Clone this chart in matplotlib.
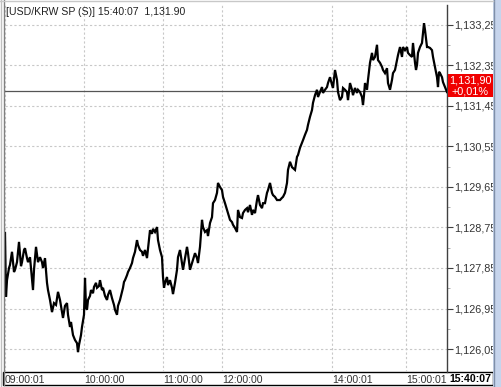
import matplotlib
matplotlib.use("Agg")
import matplotlib.pyplot as plt
from matplotlib.patches import Rectangle
from matplotlib.lines import Line2D
from matplotlib import transforms

plt.rcParams['font.family'] = ['Liberation Sans', 'DejaVu Sans']

title_text = "[USD/KRW SP (S)] 15:40:07  1,131.90"
last_price = 1131.90
prev_close = 1131.79
change_text = "+0,01%"
last_time = "15:40:07"

time_labels = ["09:00:01", "10:00:00", "11:00:00", "12:00:00", "14:00:01", "15:00:01"]
time_label_ticks = [0, 79, 158, 217, 327, 401]

price_ticks = [1126.05, 1126.95, 1127.85, 1128.75, 1129.65, 1130.55, 1131.45, 1132.35, 1133.25]

ticks = [
    0, 1, 2, 4, 5, 7, 9, 10, 12, 14,
    16, 17, 19, 20, 22, 23, 25, 26, 28, 29,
    31, 33, 35, 37, 38, 40, 42, 43, 45, 47,
    49, 51, 53, 55, 56, 58, 60, 62, 63, 65,
    66, 68, 70, 72, 73, 74, 76, 77, 79, 80,
    81, 82, 83, 85, 86, 88, 89, 91, 92, 94,
    95, 97, 98, 100, 102, 103, 105, 107, 109, 110,
    112, 113, 115, 116, 118, 119, 120, 122, 123, 125,
    127, 128, 130, 132, 133, 135, 137, 138, 140, 142,
    144, 145, 147, 148, 150, 152, 153, 155, 157, 158,
    159, 160, 162, 163, 165, 167, 168, 170, 172, 173,
    175, 177, 178, 180, 182, 183, 185, 187, 188, 190,
    192, 193, 195, 197, 198, 200, 202, 203, 205, 207,
    208, 210, 212, 213, 215, 217, 218, 220, 222, 223,
    225, 227, 228, 230, 232, 233, 235, 237, 238, 240,
    242, 243, 245, 247, 248, 250, 252, 253, 255, 257,
    258, 260, 262, 263, 265, 267, 268, 270, 272, 273,
    275, 277, 278, 280, 282, 283, 285, 287, 288, 290,
    292, 293, 295, 297, 298, 300, 302, 303, 305, 307,
    308, 310, 312, 313, 315, 317, 318, 320, 322, 323,
    325, 327, 328, 330, 332, 333, 335, 337, 338, 340,
    342, 343, 345, 347, 348, 350, 352, 353, 355, 357,
    358, 359, 360, 362, 363, 365, 367, 368, 370, 372,
    373, 375, 377, 378, 380, 382, 383, 385, 387, 388,
    390, 392, 393, 395, 397, 398, 400, 402, 403, 405,
    407, 408, 410, 411, 412, 413, 415, 417, 418, 419,
    420, 422, 423, 425, 427, 428, 430, 432, 433, 434,
    435, 437, 438, 440, 442,
]

prices = [
    1128.63, 1127.21, 1127.58, 1127.85, 1127.92, 1128.21, 1127.76, 1127.81, 1127.98, 1128.43,
    1127.89, 1127.98, 1128.25, 1128.29, 1128.07, 1127.98, 1128.09, 1127.85, 1127.36, 1127.81,
    1128.32, 1127.98, 1128.09, 1127.98, 1127.85, 1128.07, 1127.52, 1127.36, 1127.14, 1126.87,
    1127.07, 1127.03, 1127.32, 1127.14, 1127.01, 1126.74, 1127.01, 1127.07, 1126.81, 1126.54,
    1126.65, 1126.36, 1126.25, 1126.18, 1125.98, 1126.14, 1126.36, 1126.54, 1126.81, 1127.63,
    1126.98, 1126.92, 1127.14, 1127.23, 1127.36, 1127.29, 1127.43, 1127.52, 1127.41, 1127.45,
    1127.58, 1127.36, 1127.41, 1127.23, 1127.14, 1127.25, 1127.36, 1127.18, 1127.03, 1126.92,
    1126.81, 1127.01, 1127.14, 1127.23, 1127.41, 1127.54, 1127.58, 1127.69, 1127.76, 1127.85,
    1127.96, 1128.07, 1128.21, 1128.47, 1128.36, 1128.25, 1128.21, 1128.12, 1128.25, 1128.07,
    1128.47, 1128.69, 1128.61, 1128.72, 1128.65, 1128.76, 1128.47, 1128.25, 1128.09, 1127.65,
    1127.41, 1127.52, 1127.65, 1127.47, 1127.58, 1127.41, 1127.27, 1127.52, 1127.81, 1128.09,
    1128.25, 1127.96, 1127.81, 1128.07, 1128.32, 1128.18, 1127.81, 1127.96, 1128.03, 1128.18,
    1128.07, 1127.96, 1128.32, 1128.92, 1128.76, 1128.65, 1128.69, 1128.56, 1128.85, 1128.98,
    1129.29, 1129.36, 1129.52, 1129.74, 1129.65, 1129.58, 1129.43, 1129.29, 1129.14, 1129.07,
    1128.92, 1128.87, 1128.81, 1128.74, 1128.65, 1129.14, 1128.98, 1128.96, 1129.07, 1129.14,
    1129.18, 1129.09, 1129.25, 1129.03, 1129.14, 1129.07, 1129.36, 1129.47, 1129.25, 1129.18,
    1129.29, 1129.29, 1129.52, 1129.58, 1129.74, 1129.52, 1129.47, 1129.43, 1129.36, 1129.36,
    1129.36, 1129.41, 1129.43, 1129.52, 1129.74, 1130.03, 1130.21, 1130.09, 1130.07, 1130.03,
    1130.32, 1130.36, 1130.52, 1130.63, 1130.69, 1130.81, 1130.92, 1131.03, 1131.21, 1131.36,
    1131.52, 1131.69, 1131.81, 1131.65, 1131.76, 1131.87, 1131.74, 1131.81, 1131.87, 1131.96,
    1132.09, 1131.92, 1131.85, 1132.25, 1132.03, 1131.76, 1131.58, 1131.65, 1131.85, 1131.81,
    1131.76, 1131.58, 1131.96, 1131.81, 1131.69, 1131.85, 1131.74, 1131.81, 1131.76, 1131.65,
    1131.47, 1131.69, 1131.96, 1131.81, 1132.03, 1132.41, 1132.63, 1132.47, 1132.54, 1132.81,
    1132.47, 1132.41, 1132.32, 1132.25, 1132.18, 1132.29, 1131.96, 1131.81, 1132.03, 1132.18,
    1132.25, 1132.47, 1132.58, 1132.76, 1132.54, 1132.76, 1132.69, 1132.76, 1132.63, 1132.58,
    1132.54, 1132.85, 1132.41, 1132.25, 1132.36, 1132.63, 1132.76, 1132.85, 1133.07, 1133.29,
    1133.14, 1132.76, 1132.76, 1132.74, 1132.69, 1132.54, 1132.32, 1132.09, 1131.87, 1132.21,
    1132.18, 1132.09, 1131.98, 1131.87, 1131.76,
]

W, H = 501, 387
fig = plt.figure(figsize=(W / 100, H / 100), dpi=100)
fig.patch.set_facecolor("white")

def fx(px):
    return px / W

def fy(py):
    return (H - py) / H

ax = fig.add_axes([fx(5), fy(372), fx(447) - fx(5), fy(5) - fy(372)])
ax.patch.set_alpha(0)

ax.plot(ticks, prices, color="black", lw=1.6, solid_joinstyle="miter", zorder=3)
ax.axhline(prev_close, color="#555555", lw=0.9, zorder=2)

ax.set_xlim(0, 442)
ax.set_ylim(1125.539, 1133.694)

for s in ["top", "left", "bottom"]:
    ax.spines[s].set_visible(False)
ax.spines["right"].set_color("#404040")
ax.spines["right"].set_linewidth(1.0)

ax.yaxis.tick_right()
ax.set_yticks(price_ticks)
ax.set_yticklabels([f"{v:,.2f}".replace(".", ",") for v in price_ticks])
ax.set_yticks([v + 0.45 for v in price_ticks[:-1]], minor=True)
ax.tick_params(axis="y", which="major", length=4, width=0.8, color="#404040",
               pad=1, labelsize=7.8, labelcolor="#333333")
ax.tick_params(axis="y", which="minor", length=2, width=0.6, color="#a0a0a0")

ax.set_xticks(time_label_ticks)
ax.set_xticklabels(time_labels)
ax.tick_params(axis="x", length=0, pad=2.5, labelsize=7.6, labelcolor="#333333")
for lbl in ax.get_xticklabels():
    lbl.set_horizontalalignment("left")

ax.grid(True, which="major", color="#c8c8c8", lw=0.8, linestyle=(0, (2, 2)))
ax.set_axisbelow(True)

# header text
ax.text(fx(6), fy(12), title_text, transform=fig.transFigure, ha="left", va="center",
        fontsize=7.6, color="#222222")

# bottom time box
fig.add_artist(Rectangle((fx(3), fy(385)), fx(493) - fx(3), fy(372) - fy(385),
                         transform=fig.transFigure, facecolor="none",
                         edgecolor="black", lw=1.0, zorder=-1))
fig.text(fx(449), fy(378.5), last_time, ha="left", va="center", fontsize=7.6,
         fontweight="bold", color="black")

# red last price box
bt = transforms.blended_transform_factory(fig.transFigure, ax.transData)
ax.add_patch(Rectangle((fx(448), last_price - 0.255), fx(493) - fx(448), 0.51,
                       transform=bt, facecolor="#f00000", edgecolor="none",
                       clip_on=False, zorder=5))
ax.text(fx(470.5), last_price + 0.12, f"{last_price:,.2f}".replace(".", ","), transform=bt,
        ha="center", va="center", fontsize=7.8, color="white", clip_on=False, zorder=6)
ax.text(fx(470.5), last_price - 0.12, change_text, transform=bt,
        ha="center", va="center", fontsize=7.8, color="white", clip_on=False, zorder=6)

# frame / borders
fig.add_artist(Rectangle((fx(493), 0), fx(501) - fx(493), 1, transform=fig.transFigure,
                         facecolor="#c6d4ec", edgecolor="none", zorder=10))
fig.add_artist(Line2D([fx(493.5), fx(493.5)], [0, 1], transform=fig.transFigure,
                      color="#7f8fa8", lw=1.0, zorder=11))
fig.add_artist(Line2D([fx(3.5), fx(3.5)], [fy(385), 1], transform=fig.transFigure,
                      color="#808080", lw=1.0, zorder=11))
fig.add_artist(Line2D([fx(1), fx(1)], [0, 1], transform=fig.transFigure,
                      color="#c0c0c0", lw=1.0, zorder=11))
fig.add_artist(Line2D([0, fx(493)], [fy(1), fy(1)], transform=fig.transFigure,
                      color="#c8c8c8", lw=1.0, zorder=11))

fig.savefig("out.png", dpi=100)
